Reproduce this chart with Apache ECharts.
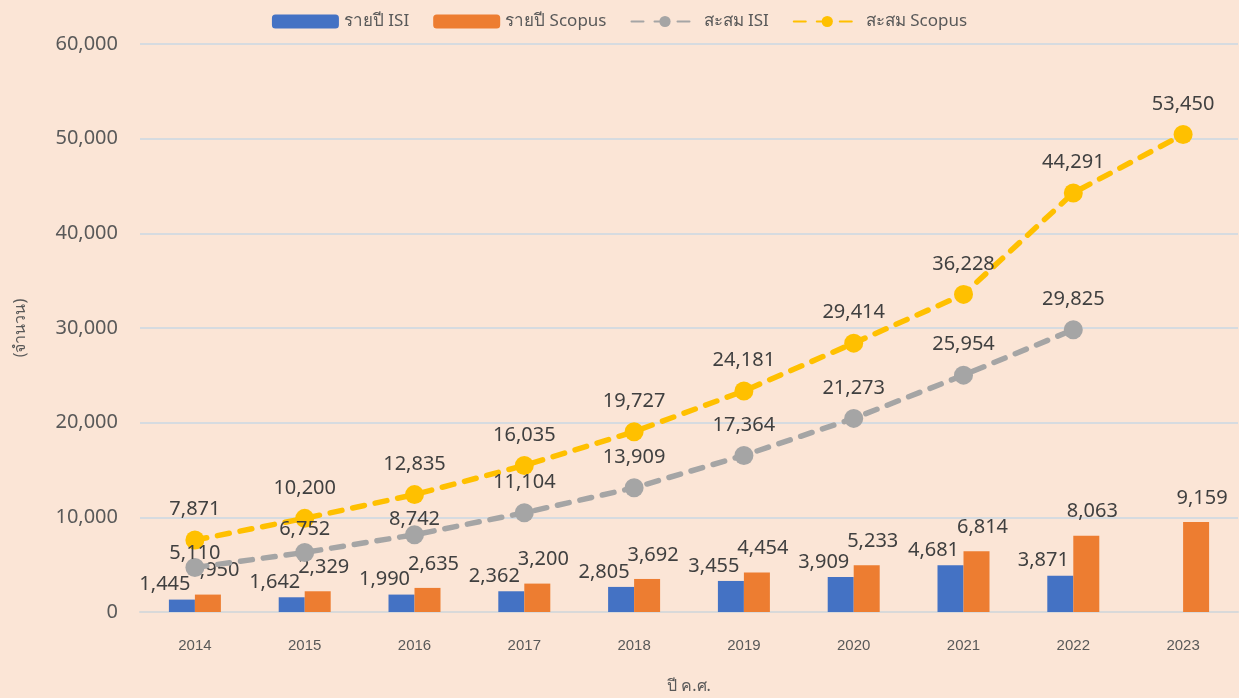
<!DOCTYPE html>
<html>
<head>
<meta charset="utf-8">
<script src="https://cdn.jsdelivr.net/npm/echarts@6/dist/echarts.min.js"></script>
<style>
  html, body { margin: 0; padding: 0; background: #fbe5d6; }
  #chart { width: 1239px; height: 698px; }
</style>
</head>
<body>
<div id="chart"></div>
<script>
const years = ['2014', '2015', '2016', '2017', '2018', '2019', '2020', '2021', '2022', '2023'];

// heights as drawn in the picture
const isiYear = [1310, 1555, 1840, 2190, 2650, 3280, 3700, 4950, 3840, null];
const scopusYear = [1840, 2190, 2545, 3000, 3490, 4160, 4930, 6430, 8060, 9500];
const isiCum = [4700, 6290, 8160, 10480, 13120, 16540, 20450, 25020, 29820, null];
const scopusCum = [7600, 9890, 12400, 15480, 19050, 23350, 28400, 33550, 44270, 50440];

// label texts as printed
const isiYearLabels = ['1,445', '1,642', '1,990', '2,362', '2,805', '3,455', '3,909', '4,681', '3,871', ''];
const scopusYearLabels = ['1,950', '2,329', '2,635', '3,200', '3,692', '4,454', '5,233', '6,814', '8,063', '9,159'];
const isiCumLabels = ['5,110', '6,752', '8,742', '11,104', '13,909', '17,364', '21,273', '25,954', '29,825', ''];
const scopusCumLabels = ['7,871', '10,200', '12,835', '16,035', '19,727', '24,181', '29,414', '36,228', '44,291', '53,450'];

const yTicks = [0, 10000, 20000, 30000, 40000, 50000, 60000];

// the first few ISI labels sit lower, so they clear the Scopus line
const isiLabelDrop = [16, 7, 15, 0, 0, 0, 0, 0, 0, 0];

const font = '"Noto Sans", "Open Sans", sans-serif';
const labelStyle = { fontFamily: font, fontSize: 20, color: '#404040' };

const chart = echarts.init(document.getElementById('chart'));

const option = {
    backgroundColor: '#fbe5d6',
    animation: false,
    legend: {
        top: 8,
        left: 'center',
        itemWidth: 67,
        itemHeight: 14,
        itemGap: 24,
        textStyle: { fontFamily: font, fontSize: 17, color: '#595959' },
        data: ['รายปี ISI', 'รายปี Scopus', 'สะสม ISI', 'สะสม Scopus']
    },
    grid: { left: 140, right: 1, top: 44, bottom: 86, outerBoundsMode: 'none' },
    xAxis: {
        type: 'category',
        data: years,
        name: 'ปี ค.ศ.',
        nameLocation: 'middle',
        nameGap: 66,
        nameTextStyle: { fontFamily: font, fontSize: 16, color: '#595959' },
        axisLine: { lineStyle: { color: '#d9d9d9', width: 2 } },
        axisTick: { show: false },
        axisLabel: { fontFamily: '"Liberation Sans", sans-serif', fontSize: 15, color: '#595959', margin: 26 }
    },
    yAxis: {
        type: 'value',
        min: yTicks[0],
        max: yTicks[yTicks.length - 1],
        interval: yTicks[1] - yTicks[0],
        name: '(จำนวน)',
        nameLocation: 'middle',
        nameRotate: 90,
        nameGap: 112,
        nameTextStyle: { fontFamily: font, fontSize: 16, color: '#595959' },
        axisLabel: {
            fontFamily: font, fontSize: 20, color: '#595959', margin: 22,
            formatter: v => v.toLocaleString('en-US')
        },
        splitLine: { lineStyle: { color: '#d6dbe0', width: 2 } }
    },
    series: [
        {
            name: 'รายปี ISI',
            type: 'bar',
            data: isiYear,
            barWidth: 26,
            barGap: '0%',
            itemStyle: { color: '#4472c4' },
            label: {
                show: true, position: 'top', offset: [-17, 0], ...labelStyle,
                formatter: p => isiYearLabels[p.dataIndex]
            }
        },
        {
            name: 'รายปี Scopus',
            type: 'bar',
            data: scopusYear,
            barWidth: 26,
            itemStyle: { color: '#ed7d31' },
            label: {
                show: true, position: 'top', offset: [6, -9], ...labelStyle,
                formatter: p => scopusYearLabels[p.dataIndex]
            }
        },
        {
            name: 'สะสม ISI',
            type: 'line',
            data: isiCum.map((v, i) => ({
                value: v,
                label: { offset: [0, isiLabelDrop[i]] }
            })),
            symbol: 'circle',
            symbolSize: 19,
            itemStyle: { color: '#a5a5a5' },
            lineStyle: { color: '#a5a5a5', width: 5.5, type: [12, 11], cap: 'round' },
            label: {
                show: true, position: 'top', distance: 11, ...labelStyle,
                formatter: p => isiCumLabels[p.dataIndex]
            }
        },
        {
            name: 'สะสม Scopus',
            type: 'line',
            data: scopusCum,
            symbol: 'circle',
            symbolSize: 19,
            itemStyle: { color: '#ffc000' },
            lineStyle: { color: '#ffc000', width: 5.5, type: [12, 11], cap: 'round' },
            label: {
                show: true, position: 'top', distance: 11, ...labelStyle,
                formatter: p => scopusCumLabels[p.dataIndex]
            }
        }
    ]
};

chart.setOption(option);
</script>
</body>
</html>
